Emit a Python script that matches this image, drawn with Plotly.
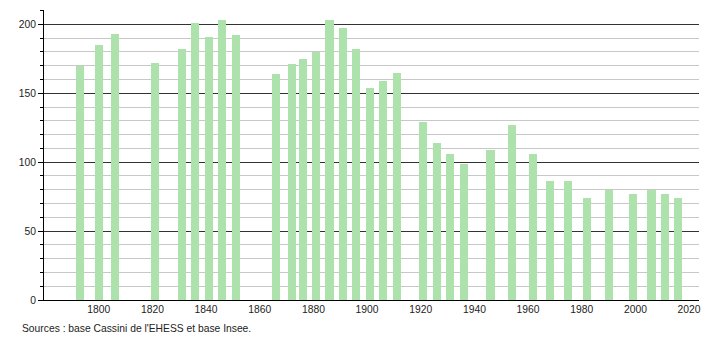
import plotly.graph_objects as go

years = [1793, 1800, 1806, 1821, 1831, 1836, 1841, 1846, 1851, 1866, 1872, 1876,
         1881, 1886, 1891, 1896, 1901, 1906, 1911, 1921, 1926, 1931, 1936, 1946,
         1954, 1962, 1968, 1975, 1982, 1990, 1999, 2006, 2011, 2016]
population = [170, 185, 193, 172, 182, 201, 191, 203, 192, 164, 171, 175,
              180, 203, 197, 182, 154, 159, 165, 129, 114, 106, 99, 109,
              127, 106, 86, 86, 74, 80, 77, 80, 77, 74]
x_ticks = [1800, 1820, 1840, 1860, 1880, 1900, 1920, 1940, 1960, 1980, 2000, 2020]
y_ticks = [0, 50, 100, 150, 200]
source_text = "Sources : base Cassini de l'EHESS et base Insee."

fig = go.Figure()
fig.add_trace(go.Bar(
    x=years, y=population, width=3,
    marker=dict(color="#ade2ad", line=dict(width=0)),
    hoverinfo="x+y",
))

fig.update_layout(
    width=710, height=340,
    margin=dict(l=44, r=9, t=10, b=40),
    paper_bgcolor="white", plot_bgcolor="white",
    font=dict(family="Liberation Sans, Arial, sans-serif", size=10.3, color="#222"),
    showlegend=False,
    bargap=0,
    xaxis=dict(
        range=[1779.6, 2023.7],
        tickvals=x_ticks, ticks="", showgrid=False, zeroline=False,
        showline=True, linecolor="#000", linewidth=1,
        tickfont=dict(size=10.3),
    ),
    yaxis=dict(
        range=[0, 210.4],
        tickvals=y_ticks, ticks="outside", ticklen=5, tickcolor="#000",
        showgrid=True, gridcolor="#333", gridwidth=1,
        zeroline=False, showline=True, linecolor="#000", linewidth=1,
        minor=dict(dtick=10, ticks="outside", ticklen=3, tickcolor="#000",
                   showgrid=True, gridcolor="#c8c8c8", gridwidth=1),
        tickfont=dict(size=10.3),
    ),
    annotations=[dict(
        text=source_text, xref="paper", yref="paper",
        x=-0.0365, y=-0.0966, xanchor="left", yanchor="middle",
        showarrow=False, font=dict(size=10.3, color="#222"),
    )],
)

fig.write_html("out.html")
